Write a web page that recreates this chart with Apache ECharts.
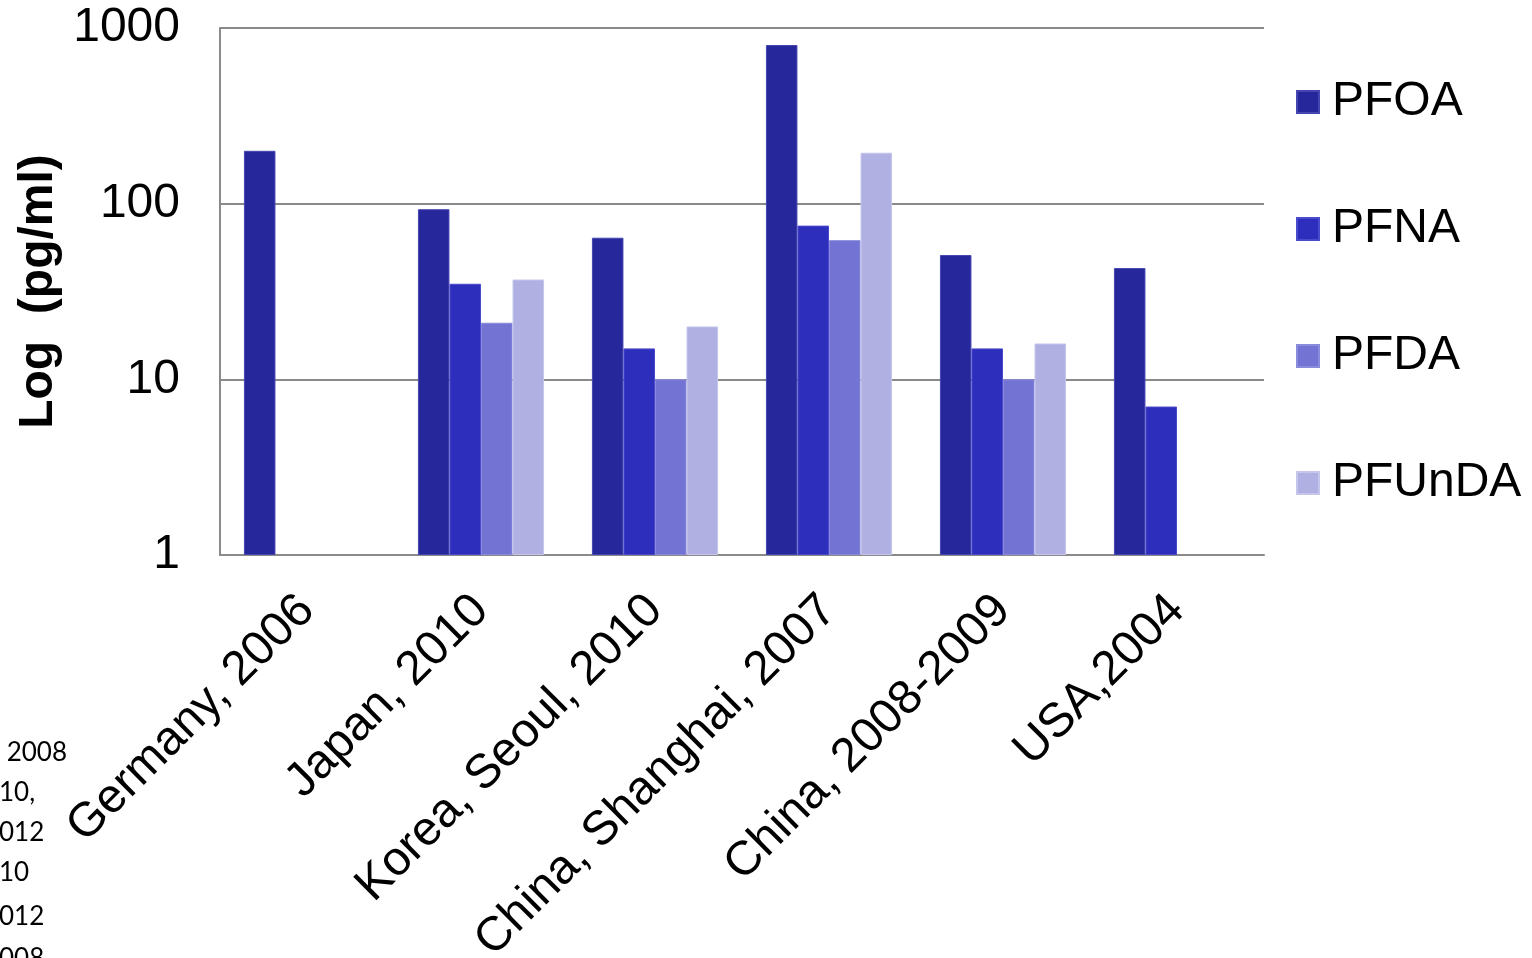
<!DOCTYPE html>
<html>
<head>
<meta charset="utf-8">
<title>PFAS levels by study</title>
<script src="https://cdn.jsdelivr.net/npm/echarts@6/dist/echarts.min.js"></script>
<style>
  html, body { margin: 0; padding: 0; background: #ffffff; }
  #chart { width: 1532px; height: 958px; }
</style>
</head>
<body>
<div id="chart"></div>
<script>
// Study locations and sampling years
const categories = ['Germany, 2006', 'Japan, 2010', 'Korea, Seoul, 2010', 'China, Shanghai, 2007', 'China, 2008-2009', 'USA,2004'];

// Concentrations in pg/ml (null = not reported)
const pfoa   = [200, 93, 64, 800, 51, 43];
const pfna   = [null, 35, 15, 75, 15, 7];
const pfda   = [null, 21, 10, 62, 10, null];
const pfunda = [null, 37, 20, 195, 16, null];

const seriesNames = ['PFOA', 'PFNA', 'PFDA', 'PFUnDA'];
const seriesData = [pfoa, pfna, pfda, pfunda];
const fills   = ['#27279c', '#2e2ebd', '#7373d4', '#b0b0e2'];
const borders = ['#4646b2', '#4a4acc', '#8b8bdd', '#c6c6ec'];

// Partial reference list text at the lower-left edge
const sideNotes = [' 2008', '10,', '012', '10', '012', '008'];
const sideNoteY = [755, 795, 835, 875, 919, 961];

const chart = echarts.init(document.getElementById('chart'), null, { renderer: 'canvas' });

const fontMain = '"Liberation Sans", Arial, Helvetica, sans-serif';

chart.setOption({
  animation: false,
  backgroundColor: '#ffffff',
  grid: { left: 220, right: 268, top: 28, bottom: 403, containLabel: false, outerBoundsMode: 'none' },
  legend: {
    data: seriesNames,
    orient: 'vertical',
    left: 1291,
    top: 72,
    itemWidth: 22,
    itemHeight: 22,
    itemGap: 77,
    icon: 'rect',
    textStyle: { fontFamily: fontMain, fontSize: 48, color: '#000000', lineHeight: 50, padding: [0, 0, 0, 8] }
  },
  xAxis: {
    type: 'category',
    data: categories,
    axisLine: { show: true, lineStyle: { color: '#8a8a8a', width: 2 } },
    axisTick: { show: false },
    axisLabel: {
      interval: 0,
      rotate: 45,
      margin: 48,
      fontFamily: fontMain,
      fontSize: 48,
      color: '#000000'
    },
    splitLine: { show: false }
  },
  yAxis: {
    type: 'log',
    logBase: 10,
    min: 1,
    max: 1000,
    name: 'Log  (pg/ml)',
    nameLocation: 'middle',
    nameRotate: 90,
    nameGap: 147,
    nameTextStyle: { fontFamily: fontMain, fontSize: 48, fontWeight: 'bold', color: '#000000' },
    axisLine: { show: true, lineStyle: { color: '#8a8a8a', width: 2 } },
    axisTick: { show: false },
    axisLabel: {
      margin: 40,
      fontFamily: fontMain,
      fontSize: 48,
      color: '#000000',
      formatter: (v) => String(Math.round(v))
    },
    splitLine: { show: true, lineStyle: { color: '#8a8a8a', width: 2 } }
  },
  series: seriesNames.map((name, i) => ({
    name: name,
    type: 'bar',
    data: seriesData[i],
    barGap: '0%',
    barCategoryGap: '27.5%',
    itemStyle: { color: fills[i], borderColor: borders[i], borderWidth: 1 }
  })),
  graphic: sideNotes.map((t, i) => ({
    type: 'text',
    left: i === 0 ? 0 : -1,
    top: sideNoteY[i] - 15,
    style: { text: t, fontFamily: 'Lato, "Open Sans", sans-serif', fontSize: 26, fill: '#000000' }
  }))
});
</script>
</body>
</html>
